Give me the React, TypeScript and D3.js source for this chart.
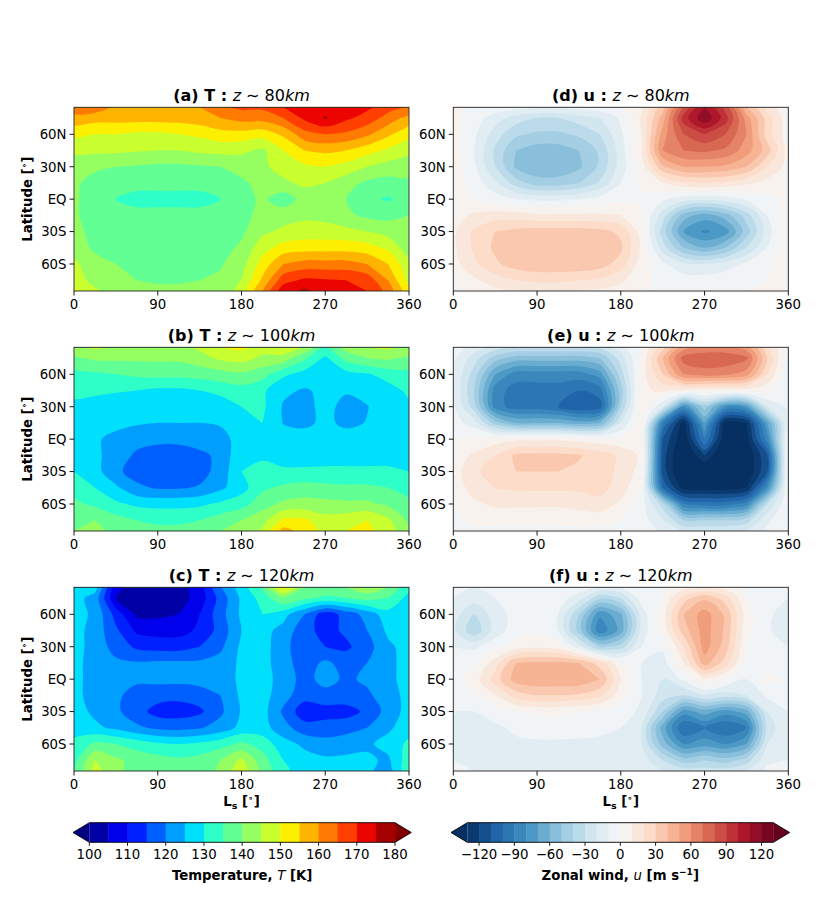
import * as d3 from "d3";

// sample grid (Ls every 22.5 deg, latitude rows from north to south)
const LS_GRID = [0, 22.5, 45, 67.5, 90, 112.5, 135, 157.5, 180, 202.5, 225, 247.5, 270, 292.5, 315, 337.5, 360];
const LAT_GRID = [85, 75, 60, 45, 30, 15, 0, -15, -30, -45, -60, -75, -85];

const T_LEVELS = [100, 105, 110, 115, 120, 125, 130, 135, 140, 145, 150, 155, 160, 165, 170, 175, 180];
const U_LEVELS = [-130, -120, -110, -100, -90, -80, -70, -60, -50, -40, -30, -20, -10, 0, 10, 20, 30, 40, 50, 60, 70, 80, 90, 100, 110, 120, 130];
const T_TICKS = [100, 110, 120, 130, 140, 150, 160, 170, 180];
const U_TICKS = [-120, -90, -60, -30, 0, 30, 60, 90, 120];
const LS_TICKS = [0, 90, 180, 270, 360];
const LAT_TICKS = [60, 30, 0, -30, -60];
const LAT_TICK_LABELS = ["60N", "30N", "EQ", "30S", "60S"];

// (a) temperature, z ~ 80 km
const T_80 = [
  [163, 163, 159, 158, 158, 158, 160, 164, 166, 166, 170, 172, 173, 172, 171, 167, 164],
  [158, 157, 157, 157, 157, 157, 158, 160, 162, 162, 165, 171, 175.5, 171, 168, 163, 158],
  [151, 150, 150, 149, 149, 150, 151, 153, 153, 152, 156, 163, 165, 164, 161, 156, 151],
  [146, 146, 146, 145.5, 145, 145, 146, 146.5, 146, 144, 150, 155, 156, 155, 152, 149, 146],
  [142, 141, 140, 139.5, 139, 139, 139.5, 140, 142, 144, 147, 149, 150, 148, 145, 143, 142],
  [141, 138, 137, 136, 136, 136, 136, 137, 139, 142, 144, 146, 145, 142, 139, 138, 139],
  [141, 137, 135, 134, 134, 134, 134, 135, 138, 141, 137, 142, 142, 140, 136, 134.5, 137],
  [141, 137, 136.5, 136, 136, 136, 136, 136.5, 138, 142, 143, 144, 143.5, 141, 139, 138.5, 140],
  [142, 138, 137, 136.5, 136.5, 137, 137, 137.5, 139, 144, 146, 147, 147, 146.5, 145, 143, 141],
  [143, 139, 138, 137, 137, 137, 137.5, 138, 141, 148, 152, 153, 153, 153, 152, 149, 142],
  [146, 142, 140, 138.5, 138, 138, 138.5, 139.5, 143, 152, 160, 162, 162, 162, 160, 155, 146],
  [148, 143, 141, 140, 139.5, 139.5, 140, 141, 145, 156, 168, 171, 170.5, 170, 168, 160, 148],
  [151, 146, 142, 141, 141, 141, 141, 142, 147, 160, 173, 176, 173, 172, 170, 163, 151],
];

// (b) temperature, z ~ 100 km
const T_100 = [
  [143, 146, 144, 143, 143, 143, 146, 150, 151, 147, 149, 144, 135, 142, 145, 146, 143],
  [139, 141, 141, 141, 141, 141, 143, 146, 147, 144, 143, 136, 129, 137, 140, 141, 139],
  [133, 134, 135, 136, 136.5, 136.5, 137, 138, 139, 137, 131, 128, 127, 128, 129.5, 132, 133],
  [131, 131, 130.5, 130, 129, 129, 130, 131.5, 133, 131, 126, 124.5, 126, 125.5, 126.5, 128, 131],
  [129, 128, 127, 126.5, 126, 126, 126.5, 127, 130, 131, 124.5, 123.5, 126.5, 123.5, 124.8, 127.5, 129],
  [128, 127, 126, 125.5, 125, 125, 125, 126, 129.5, 130, 124.8, 124, 126, 124, 125.2, 127, 128],
  [127, 125.5, 124, 122, 121, 121, 122, 121.5, 129, 129.5, 127, 127, 127, 127, 127, 127, 127],
  [128, 126, 123, 119, 118, 118, 119, 121, 129.5, 129.5, 127.5, 127.5, 128, 128, 128, 128, 128],
  [130, 127, 121, 118, 117, 117, 118, 122, 130, 131, 131, 131, 131, 131, 131, 131, 130],
  [133, 130, 126, 121, 119.5, 119.5, 120.5, 124, 128, 134, 136, 137, 136.5, 136, 136, 135, 133],
  [136, 134, 131, 129, 128.5, 128.5, 129, 131, 133, 138, 141, 142, 141.5, 141, 141, 139, 136],
  [139, 140, 137, 135, 134, 134, 135, 137.5, 140, 143, 151, 151, 147, 148, 150, 146, 139],
  [140, 141, 139, 137, 136.5, 136.5, 138, 140, 142, 146, 157, 153, 148, 150, 151, 148, 140],
];

// (c) temperature, z ~ 120 km
const T_120 = [
  [130, 127, 105.5, 104, 103, 103, 107, 120, 127, 136, 152, 140, 138, 140, 144, 140, 131],
  [127, 123, 105, 102, 102, 103, 107, 117, 126, 132, 140, 136, 134, 135, 137, 135, 128],
  [127, 124, 113, 104, 104, 105, 110, 118, 126, 130, 127, 120, 112, 117, 122, 128, 128],
  [127, 123, 116, 109, 108, 108, 111, 117, 125, 127, 123, 117, 113, 116, 120, 126, 127],
  [127, 123, 118, 114, 113, 113, 115, 119, 126, 127, 122, 116, 115, 114, 118, 124, 127],
  [126.5, 123, 121, 120.5, 121, 121, 121, 122, 126, 127, 122, 117.5, 121, 118, 120, 124, 126.5],
  [126.5, 123, 121, 121, 121.5, 121.5, 122, 122.5, 126, 127, 123, 118, 122, 119, 121, 124, 126.5],
  [126.5, 123, 121, 118, 117, 116.5, 117.5, 120, 126, 127, 122, 117, 118, 118, 119, 123, 126.5],
  [127, 124, 121, 117, 113, 112.5, 114, 119, 125.5, 127, 119, 112, 113, 113, 116, 122, 127],
  [128, 126, 124, 121, 119, 118.5, 119.5, 122, 126.5, 127, 122, 117, 117, 118, 120, 124, 128],
  [131, 136, 135, 133, 131, 130, 131, 133, 136, 133, 127, 124, 122, 123, 124, 127, 131],
  [133, 145, 141, 138, 137, 136, 137, 140, 146, 137, 130, 127, 126, 126, 126, 124, 133],
  [134, 147, 141, 138, 137, 136, 137, 141, 148, 138, 131, 128, 127, 127, 126, 122, 134],
];

// (d) zonal wind, z ~ 80 km
const U_80 = [
  [2, -2, -4, -6, -8, -8, -6, -4, -1, 8, 35, 80, 110, 85, 40, 15, 2],
  [3, -5, -15, -25, -30, -30, -25, -20, -8, 12, 45, 95, 118, 95, 55, 25, 3],
  [4, -8, -25, -38, -42, -42, -38, -30, -12, 10, 55, 80, 90, 80, 60, 25, 4],
  [5, -10, -32, -50, -55, -55, -50, -38, -15, 10, 60, 70, 72, 68, 55, 35, 5],
  [6, -8, -30, -52, -58, -58, -52, -38, -15, 5, 38, 50, 50, 48, 40, 20, 6],
  [5, -4, -18, -35, -45, -45, -40, -28, -10, 2, 10, 18, 20, 18, 12, 6, 5],
  [3, 0, -5, -10, -12, -12, -10, -6, -2, -2, -8, -15, -18, -15, -8, -3, 3],
  [5, 12, 15, 15, 12, 12, 12, 12, 10, 2, -25, -55, -65, -55, -35, -10, 5],
  [8, 22, 30, 33, 35, 35, 35, 33, 28, 5, -35, -70, -82, -75, -45, -15, 8],
  [8, 22, 32, 38, 40, 40, 40, 38, 32, 8, -25, -50, -60, -50, -30, -10, 8],
  [6, 18, 28, 35, 38, 38, 38, 35, 25, 5, -8, -18, -20, -15, -8, -2, 6],
  [3, 8, 15, 20, 22, 22, 20, 18, 12, 3, -3, -5, -5, -4, -2, 0, 3],
  [2, 4, 8, 10, 12, 12, 10, 8, 6, 1, -1, -2, -2, -1, 0, 1, 2],
];

// (e) zonal wind, z ~ 100 km
const U_100 = [
  [-5, -15, -25, -30, -30, -30, -30, -28, -15, 0, 25, 55, 62, 62, 55, 20, -5],
  [-8, -25, -45, -55, -55, -55, -55, -50, -25, 2, 40, 75, 78, 78, 72, 30, -8],
  [-10, -35, -70, -85, -85, -85, -85, -75, -35, 5, 30, 60, 65, 62, 55, 20, -10],
  [-10, -40, -85, -95, -95, -95, -100, -95, -45, 8, 12, 8, 5, 5, 5, 3, -10],
  [-8, -35, -85, -95, -95, -100, -110, -105, -40, 10, -20, -80, -45, -80, -75, -20, -8],
  [-5, -15, -45, -60, -60, -60, -65, -60, -20, 8, -90, -135, -70, -135, -130, -70, -5],
  [0, 2, 5, 8, 8, 8, 6, 4, 2, 5, -110, -140, -90, -140, -135, -85, 0],
  [3, 12, 20, 32, 33, 33, 31, 25, 18, 8, -115, -145, -120, -145, -140, -110, 3],
  [5, 18, 25, 30, 30, 30, 28, 24, 18, 5, -115, -145, -145, -145, -140, -110, 5],
  [3, 15, 20, 22, 22, 22, 22, 24, 15, 0, -100, -135, -135, -135, -130, -80, 3],
  [0, 8, 12, 12, 12, 12, 14, 16, 8, -5, -35, -90, -95, -95, -85, -30, 0],
  [-2, 2, 3, 2, 2, 2, 3, 4, 0, -5, -20, -40, -40, -40, -35, -12, -2],
  [-3, -2, -3, -2, -2, -2, -2, -3, -3, -5, -12, -22, -22, -22, -20, -8, -3],
];

// (f) zonal wind, z ~ 120 km
const U_120 = [
  [-8, -10, -8, -5, -3, -3, -5, -12, -10, -3, -2, 5, 10, 5, -3, -8, -8],
  [-10, -15, -10, -5, -3, -5, -15, -38, -30, -5, 0, 25, 38, 25, 0, -8, -10],
  [-15, -30, -15, -6, -4, -10, -40, -78, -62, -15, 5, 40, 55, 38, 5, -8, -15],
  [-18, -38, -15, -5, -3, -10, -45, -88, -66, -15, 3, 35, 55, 38, 3, -8, -18],
  [-10, -12, -4, 5, 8, 6, -15, -42, -35, -10, -8, 20, 55, 35, 0, -5, -10],
  [-6, -2, 15, 40, 42, 42, 40, 25, 3, -10, -15, 10, 45, 25, -3, -5, -6],
  [-4, 5, 25, 45, 48, 48, 48, 40, 10, -10, -20, -8, 10, 0, -10, 3, -4],
  [-6, -2, 10, 25, 30, 30, 28, 22, 5, -10, -25, -30, -20, -25, -20, -8, -6],
  [-10, -10, -5, 0, 2, 2, 0, -2, -5, -12, -40, -75, -65, -75, -65, -20, -10],
  [-12, -15, -12, -8, -5, -5, -6, -8, -10, -20, -65, -100, -90, -100, -90, -25, -12],
  [-12, -15, -15, -12, -12, -12, -12, -12, -15, -20, -55, -80, -75, -80, -70, -20, -12],
  [-10, -12, -14, -18, -15, -15, -18, -15, -15, -15, -30, -45, -40, -45, -35, -12, -10],
  [-5, -10, -12, -12, -12, -12, -12, -12, -12, -12, -20, -25, -25, -25, -20, -8, -5],
];

const FONT = "DejaVu Sans, Verdana, sans-serif";
const PANEL_W = 335;
const PANEL_H = 183.7;
const COL_X = [74, 453.3];
const ROW_Y = [107.3, 347.3, 587.3];

// matplotlib jet, piecewise linear
const channel = (stops: number[][]) =>
  d3.scaleLinear().domain(stops.map((s) => s[0])).range(stops.map((s) => s[1])).clamp(true);
const jetR = channel([[0, 0], [0.35, 0], [0.66, 1], [0.89, 1], [1, 0.5]]);
const jetG = channel([[0, 0], [0.125, 0], [0.375, 1], [0.64, 1], [0.91, 0], [1, 0]]);
const jetB = channel([[0, 0.5], [0.11, 1], [0.34, 1], [0.65, 0], [1, 0]]);
const jet = (t: number) => d3.rgb(255 * jetR(t), 255 * jetG(t), 255 * jetB(t)).formatHex();

// matplotlib RdBu_r
const RDBU_R = ["#053061", "#2166ac", "#4393c3", "#92c5de", "#d1e5f0", "#f7f7f7", "#fddbc7", "#f4a582", "#d6604d", "#b2182b", "#67001f"];
const rdbuScale = d3.scaleLinear<string>().domain(RDBU_R.map((_, i) => i / 10)).range(RDBU_R).clamp(true);
const rdbuR = (t: number) => d3.color(rdbuScale(t))!.formatHex();

function palette(levels: number[], cmap: (t: number) => string) {
  const n = levels.length - 1;
  return { bands: d3.range(n).map((k) => cmap((k + 0.5) / n)), under: cmap(0), over: cmap(1) };
}
const T_PAL = palette(T_LEVELS, jet);
const U_PAL = palette(U_LEVELS, rdbuR);

type Pal = ReturnType<typeof palette>;

function bandPaths(grid: number[][], levels: number[], x: d3.ScaleLinear<number, number>, y: d3.ScaleLinear<number, number>) {
  const nx = grid[0].length;
  const ny = grid.length;
  const lsOf = d3.scaleLinear().domain(d3.range(nx)).range(LS_GRID);
  const latOf = d3.scaleLinear().domain(d3.range(ny)).range(LAT_GRID);
  const clampX = (v: number) => Math.max(0, Math.min(nx - 1, v));
  const clampY = (v: number) => Math.max(0, Math.min(ny - 1, v));
  const line = d3.line().curve(d3.curveCatmullRomClosed.alpha(0.5));
  const polys = d3.contours().size([nx, ny]).thresholds(levels)(grid.flat());
  return polys.map((mp) => {
    let d = "";
    for (const poly of mp.coordinates) {
      for (const ring of poly) {
        const pts = ring.slice(0, -1).map(([cx, cy]) => [
          x(lsOf(clampX(cx - 0.5))),
          y(latOf(clampY(cy - 0.5))),
        ] as [number, number]);
        d += line(pts) ?? "";
      }
    }
    return d;
  });
}

interface PanelProps {
  grid: number[][];
  levels: number[];
  pal: Pal;
  col: number;
  row: number;
  letter: string;
  vname: string;
  alt: string;
}

function Panel({ grid, levels, pal, col, row, letter, vname, alt }: PanelProps) {
  const x0 = COL_X[col];
  const y0 = ROW_Y[row];
  const x = d3.scaleLinear().domain([0, 360]).range([x0, x0 + PANEL_W]);
  const y = d3.scaleLinear().domain([-85, 85]).range([y0 + PANEL_H, y0]);
  const paths = bandPaths(grid, levels, x, y);
  const clipId = `clip-${letter}`;
  const nb = pal.bands.length;
  return (
    <g>
      <defs>
        <clipPath id={clipId}>
          <rect x={x0} y={y0} width={PANEL_W} height={PANEL_H} />
        </clipPath>
      </defs>
      <g clipPath={`url(#${clipId})`}>
        <rect x={x0} y={y0} width={PANEL_W} height={PANEL_H} fill={pal.under} />
        {paths.map((d, k) => (
          <path key={k} d={d} fill={k < nb ? pal.bands[k] : pal.over} fillRule="evenodd" />
        ))}
      </g>
      <rect x={x0} y={y0} width={PANEL_W} height={PANEL_H} fill="none" stroke="#222" strokeWidth={0.9} />
      {/* x ticks */}
      {LS_TICKS.map((t) => (
        <g key={`x${t}`}>
          <line x1={x(t)} x2={x(t)} y1={y0 + PANEL_H} y2={y0 + PANEL_H + 4.5} stroke="#000" strokeWidth={0.9} />
          <text x={x(t)} y={y0 + PANEL_H + 17.8} textAnchor="middle" fontSize={13.3}>
            {t}
          </text>
        </g>
      ))}
      {/* y ticks */}
      {LAT_TICKS.map((t, i) => (
        <g key={`y${t}`}>
          <line x1={x0 - 4.5} x2={x0} y1={y(t)} y2={y(t)} stroke="#000" strokeWidth={0.9} />
          <text x={x0 - 7.5} y={y(t)} dy="0.36em" textAnchor="end" fontSize={13.3}>
            {LAT_TICK_LABELS[i]}
          </text>
        </g>
      ))}
      {/* title */}
      <text x={x0 + PANEL_W / 2} y={y0 - 6.3} textAnchor="middle" fontSize={16}>
        <tspan fontWeight="bold">{`(${letter}) ${vname} : `}</tspan>
        <tspan fontStyle="italic">z</tspan>
        <tspan>{" \u223c "}</tspan>
        <tspan>{alt}</tspan>
        <tspan fontStyle="italic">km</tspan>
      </text>
      {col === 0 && (
        <text transform={`translate(31.5,${y0 + PANEL_H / 2}) rotate(-90)`} textAnchor="middle" fontSize={13.3} fontWeight="bold">
          Latitude [<tspan fontSize={9} dy={-5}>{"\u2218"}</tspan>
          <tspan dy={5}>]</tspan>
        </text>
      )}
      {row === 2 && (
        <text x={x0 + PANEL_W / 2} y={y0 + PANEL_H + 35} textAnchor="middle" fontSize={13.3} fontWeight="bold">
          L<tspan fontSize={9.5} dy={3}>s</tspan>
          <tspan dy={-3}> [</tspan>
          <tspan fontSize={9} dy={-5}>{"\u2218"}</tspan>
          <tspan dy={5}>]</tspan>
        </text>
      )}
    </g>
  );
}

interface ColorbarProps {
  x0: number;
  x1: number;
  levels: number[];
  pal: Pal;
  ticks: number[];
  children: React.ReactNode;
}

function Colorbar({ x0, x1, levels, pal, ticks, children }: ColorbarProps) {
  const y0 = 822.7;
  const h = 19.6;
  const ext = 16.3;
  const sx = d3.scaleLinear().domain([levels[0], levels[levels.length - 1]]).range([x0, x1]);
  const fmt = (v: number) => (v < 0 ? `\u2212${Math.abs(v)}` : `${v}`);
  const outline = `M${x0},${y0}L${x1},${y0}L${x1 + ext},${y0 + h / 2}L${x1},${y0 + h}L${x0},${y0 + h}L${x0 - ext},${y0 + h / 2}Z`;
  return (
    <g>
      <path d={`M${x0},${y0}L${x0 - ext},${y0 + h / 2}L${x0},${y0 + h}Z`} fill={pal.under} />
      <path d={`M${x1},${y0}L${x1 + ext},${y0 + h / 2}L${x1},${y0 + h}Z`} fill={pal.over} />
      {pal.bands.map((c, k) => (
        <rect key={k} x={sx(levels[k])} y={y0} width={sx(levels[k + 1]) - sx(levels[k]) + 0.4} height={h} fill={c} />
      ))}
      <path d={outline} fill="none" stroke="#000" strokeWidth={0.9} />
      {ticks.map((t) => (
        <g key={t}>
          <line x1={sx(t)} x2={sx(t)} y1={y0 + h} y2={y0 + h + 3.5} stroke="#000" strokeWidth={0.9} />
          <text x={sx(t)} y={859} textAnchor="middle" fontSize={13.3}>
            {fmt(t)}
          </text>
        </g>
      ))}
      <text x={(x0 + x1) / 2} y={880} textAnchor="middle" fontSize={13.3} fontWeight="bold">
        {children}
      </text>
    </g>
  );
}

export default function App() {
  return (
    <svg
      width={822}
      height={897}
      viewBox="0 0 822 897"
      style={{ position: "absolute", left: 0, top: 0, background: "#fff" }}
      fontFamily={FONT}
    >
      <rect width={822} height={897} fill="#fff" />
      <Panel grid={T_80} levels={T_LEVELS} pal={T_PAL} col={0} row={0} letter="a" vname="T" alt="80" />
      <Panel grid={T_100} levels={T_LEVELS} pal={T_PAL} col={0} row={1} letter="b" vname="T" alt="100" />
      <Panel grid={T_120} levels={T_LEVELS} pal={T_PAL} col={0} row={2} letter="c" vname="T" alt="120" />
      <Panel grid={U_80} levels={U_LEVELS} pal={U_PAL} col={1} row={0} letter="d" vname="u" alt="80" />
      <Panel grid={U_100} levels={U_LEVELS} pal={U_PAL} col={1} row={1} letter="e" vname="u" alt="100" />
      <Panel grid={U_120} levels={U_LEVELS} pal={U_PAL} col={1} row={2} letter="f" vname="u" alt="120" />
      <Colorbar x0={89.3} x1={395} levels={T_LEVELS} pal={T_PAL} ticks={T_TICKS}>
        Temperature, <tspan fontStyle="italic" fontWeight="normal">T</tspan> [K]
      </Colorbar>
      <Colorbar x0={467.3} x1={773.3} levels={U_LEVELS} pal={U_PAL} ticks={U_TICKS}>
        Zonal wind, <tspan fontStyle="italic" fontWeight="normal">u</tspan> [m s
        <tspan fontSize={9} dy={-5}>{"\u22121"}</tspan>
        <tspan dy={5}>]</tspan>
      </Colorbar>
    </svg>
  );
}
